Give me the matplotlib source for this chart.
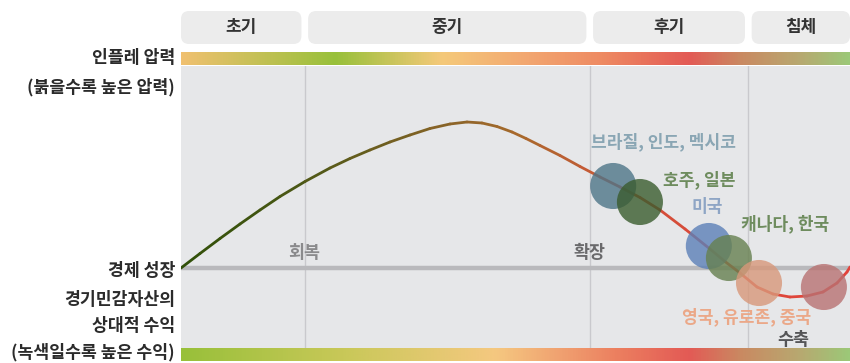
import numpy as np
import matplotlib.pyplot as plt
from matplotlib.colors import LinearSegmentedColormap, to_rgba
from matplotlib.collections import LineCollection
from matplotlib.patches import FancyBboxPatch

plt.rcParams['font.family'] = ['Noto Sans CJK KR', 'DejaVu Sans']

# 경기 사이클 진행도(0~100)와 추세 대비 성장률
cycle_x = [0, 2.84, 5.83, 8.82, 11.81, 14.8, 18.54, 22.27, 25.26, 28.25,
           31.24, 34.23, 37.22, 40.21, 42.75, 44.99, 47.23, 49.48, 51.57,
           53.66, 56.65, 59.64, 62.63, 65.62, 68.61, 71.6, 75.34, 79.07,
           81.31, 83.56, 86.1, 88.49, 91.03, 93.57, 95.96, 98.06, 99.55, 100]
growth_y = [0, 0.725, 1.475, 2.2, 2.9, 3.575, 4.325, 5.0, 5.475, 5.9,
            6.3, 6.65, 6.975, 7.2, 7.3, 7.25, 7.075, 6.8, 6.475,
            6.125, 5.625, 5.075, 4.55, 4.05, 3.525, 2.9, 1.95, 0.95,
            0.325, -0.25, -0.95, -1.3, -1.45, -1.4, -1.2, -0.75, -0.2, 0.05]

# 국면 구분
phases = ['초기', '중기', '후기', '침체']
phase_edges = [0, 18.5, 61.1, 84.8, 100]
turn_labels = ['회복', '확장', '수축']

# 국가별 현재 위치
countries = ['브라질, 인도, 멕시코', '호주, 일본', '미국', '캐나다, 한국',
             '영국, 유로존, 중국', '']
country_x = [64.6, 68.6, 78.9, 81.9, 86.4, 96.1]
country_y = [4.1, 3.3, 1.1, 0.5, -0.75, -0.95]
circle_colors = ['#4e7588', '#3a5c2e', '#5b80b8', '#66804f', '#d8987a', '#b87272']
label_colors = ['#8aa6b4', '#6e8c5e', '#8ea5c5', '#6e8c5e', '#eba888', None]

W, H = 850, 363
fig = plt.figure(figsize=(W / 100, H / 100), dpi=100)


def px_axes(x0, y0, x1, y1):
    a = fig.add_axes([x0 / W, 1 - y1 / H, (x1 - x0) / W, (y1 - y0) / H])
    for s in a.spines.values():
        s.set_visible(False)
    a.set_xticks([])
    a.set_yticks([])
    return a


# 본 차트
ax = px_axes(181, 66, 850, 348)
ax.set_xlim(0, 100)
ax.set_ylim(-4, 10.1)
ax.set_facecolor('#e6e7e9')

for b in phase_edges[1:-1]:
    ax.axvline(b, color='#c9c9cd', lw=1, zorder=1)
ax.axhline(0, color='#b9b9bc', lw=3.2, zorder=1)

curve_cmap = LinearSegmentedColormap.from_list('curve', [
    (0.0, '#2f4f08'), (0.18, '#4c5816'), (0.4, '#8a6428'), (0.5, '#a66a2c'),
    (0.62, '#c65a36'), (0.76, '#d84a3a'), (1.0, '#e2443c')])
pts = np.column_stack([cycle_x, growth_y])
segs = np.stack([pts[:-1], pts[1:]], axis=1)
mids = (pts[:-1, 0] + pts[1:, 0]) / 200
lc = LineCollection(segs, colors=curve_cmap(mids), linewidths=2.0,
                    capstyle='round', joinstyle='round', zorder=2)
ax.add_collection(lc)

rgba = [to_rgba(c, 0.8) for c in circle_colors]
ax.scatter(country_x, country_y, s=1100, c=rgba, edgecolors='none', zorder=4)

# 국가 라벨 위치 (데이터 좌표)
label_pos = [(72.1, 6.3), (77.5, 4.4), (78.6, 3.05), (90.3, 2.2), (84.5, -2.45)]
for name, col, (lx, ly) in zip(countries, label_colors, label_pos):
    ax.text(lx, ly, name, color=col, fontsize=12.3, fontweight='bold',
            ha='center', va='center', zorder=5)

# 국면 전환 라벨
turn_pos = [(18.4, 0.75), (61.0, 0.75), (91.5, -3.6)]
turn_colors = ['#8a8a8c', '#6a6a6c', '#555557']
for t, c, (tx, ty) in zip(turn_labels, turn_colors, turn_pos):
    ax.text(tx, ty, t, color=c, fontsize=12.5, fontweight='bold',
            ha='center', va='center', zorder=5)

# 인플레 압력 / 자산 수익 그라데이션 바
top_cmap = LinearSegmentedColormap.from_list('top', [
    (0.0, '#f0c070'), (0.23, '#98c03a'), (0.39, '#f5c97a'), (0.52, '#f2a670'),
    (0.63, '#ee8a62'), (0.76, '#e35a55'), (0.84, '#c98a62'), (0.925, '#b8a870'),
    (1.0, '#9cc878')])
bot_cmap = LinearSegmentedColormap.from_list('bot', [
    (0.0, '#98c03a'), (0.24, '#c8c858'), (0.47, '#f5c880'), (0.57, '#f0a070'),
    (0.65, '#ec8060'), (0.76, '#e35a55'), (0.84, '#c98a62'), (0.925, '#b8a870'),
    (1.0, '#9cc878')])
grad = np.linspace(0, 1, 512)[None, :]
for (y0, y1), cm in [((52, 65), top_cmap), ((348, 361), bot_cmap)]:
    bar = px_axes(181, y0, 850, y1)
    bar.imshow(grad, cmap=cm, aspect='auto', extent=[0, 100, 0, 1])
    bar.set_xlim(0, 100)

# 국면 헤더
axh = px_axes(181, 11, 850, 44)
axh.set_xlim(0, 100)
axh.set_ylim(0, 33)
axh.patch.set_visible(False)
gap = 0.5
for i, name in enumerate(phases):
    x0 = phase_edges[i] + (gap if i > 0 else 0)
    x1 = phase_edges[i + 1] - (gap if i < len(phases) - 1 else 0)
    box = FancyBboxPatch((x0, 0), x1 - x0, 33,
                         boxstyle='round,pad=0,rounding_size=1.2',
                         mutation_aspect=6.69, fc='#ececec', ec='none')
    axh.add_patch(box)
    axh.text((x0 + x1) / 2, 16.5, name, fontsize=12.2, fontweight='bold',
             color='#333333', ha='center', va='center')

# 왼쪽 설명
left_text = [(58, '인플레 압력'), (87, '(붉을수록 높은 압력)'), (271, '경제 성장'),
             (300, '경기민감자산의'), (326, '상대적 수익'), (352, '(녹색일수록 높은 수익)')]
for y, t in left_text:
    fig.text(175 / W, 1 - y / H, t, fontsize=12.4, fontweight='bold',
             color='#2b2b2b', ha='right', va='center')

fig.savefig('out.png', dpi=100, facecolor='white')
